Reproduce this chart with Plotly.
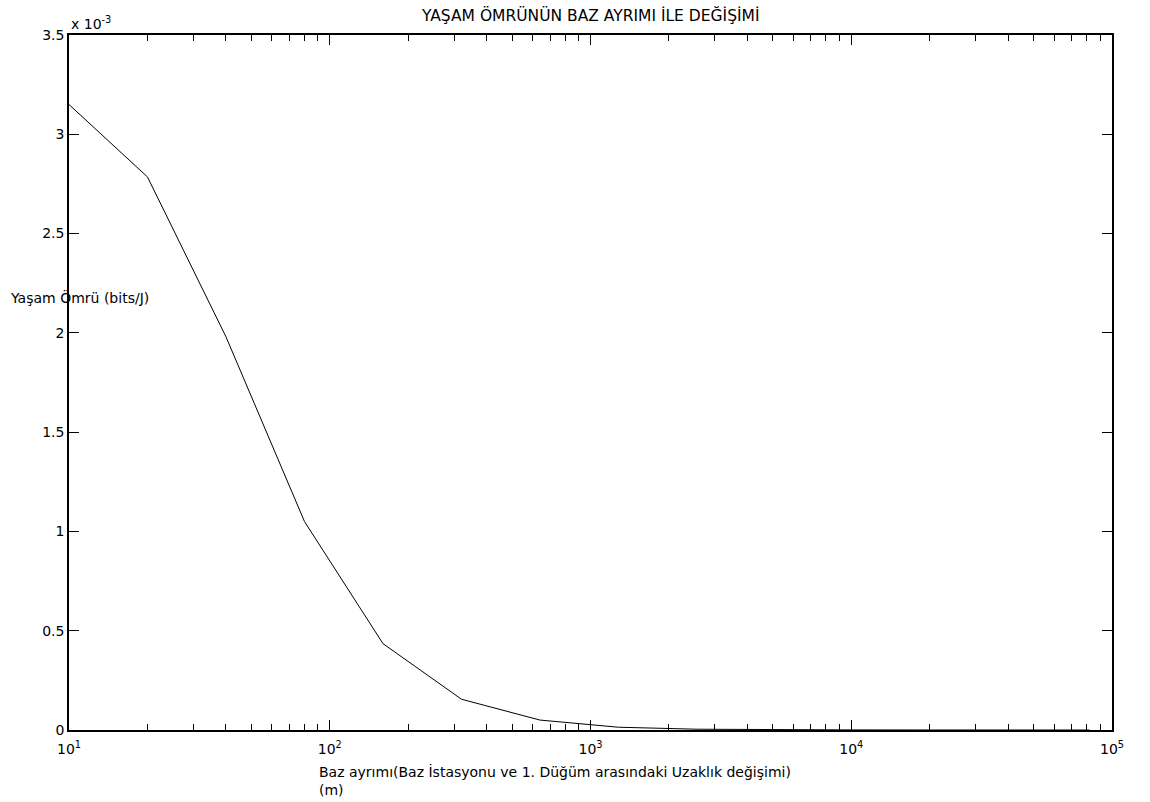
import plotly.graph_objects as go

# Base-station distance (m) and lifetime (bits/J, in units of 1e-3)
distance_m = [10, 20, 40, 80, 160, 320, 640, 1280, 2560, 5120, 10240, 20480, 40960, 81920]
lifetime_e3 = [3.15, 2.785, 1.98, 1.05, 0.435, 0.155, 0.05, 0.014, 0.004, 0.0012,
               0.0004, 0.00012, 0.00004, 0.00001]

x_major = [10, 100, 1000, 10000, 100000]
x_major_text = ["10<sup>1</sup>", "10<sup>2</sup>", "10<sup>3</sup>", "10<sup>4</sup>", "10<sup>5</sup>"]
x_minor = [m * d for d in (10, 100, 1000, 10000) for m in range(2, 10)]
y_ticks = [0, 0.5, 1, 1.5, 2, 2.5, 3, 3.5]
y_tick_text = ["0", "0.5", "1", "1.5", "2", "2.5", "3", "3.5"]

title_text = "YAŞAM ÖMRÜNÜN BAZ AYRIMI İLE DEĞİŞİMİ"
x_label = "Baz ayrımı(Baz İstasyonu ve 1. Düğüm arasındaki Uzaklık değişimi)<br>(m)"
y_label = "Yaşam Ömrü (bits/J)"

family = "DejaVu Sans, Liberation Sans, Arial, sans-serif"
font = dict(family=family, size=14, color="black")
title_font = dict(family=family, size=15.5, color="black")

L, R, T, B = 69, 38, 35, 72
W, H = 1150, 802
plot_w = W - L - R
plot_h = H - T - B


def px_x(px):
    return (px - L) / plot_w


def px_y(py):
    return (H - B - py) / plot_h


fig = go.Figure()
fig.add_trace(go.Scatter(x=distance_m, y=lifetime_e3, mode="lines",
                         line=dict(color="black", width=1), showlegend=False))

fig.update_layout(
    width=W, height=H,
    margin=dict(l=L, r=R, t=T, b=B),
    paper_bgcolor="white", plot_bgcolor="white",
    font=font,
    xaxis=dict(
        type="log", range=[1, 5],
        tickmode="array", tickvals=x_major, ticktext=x_major_text,
        ticks="inside", ticklen=10, tickwidth=1, tickcolor="black",
        ticklabelstandoff=5,
        minor=dict(tickmode="array", tickvals=x_minor, ticks="inside",
                   ticklen=6, tickwidth=1, tickcolor="black"),
        showline=True, linecolor="black", linewidth=1.5, mirror="ticks",
        showgrid=False, zeroline=False, tickfont=font,
    ),
    yaxis=dict(
        range=[0, 3.5],
        tickmode="array", tickvals=y_ticks, ticktext=y_tick_text,
        ticks="inside", ticklen=10, tickwidth=1, tickcolor="black",
        showline=True, linecolor="black", linewidth=1.5, mirror="ticks",
        showgrid=False, zeroline=False, tickfont=font,
    ),
    annotations=[
        dict(text=title_text, x=0.5, y=1, xref="paper", yref="paper",
             xanchor="center", yanchor="bottom", yshift=8, showarrow=False,
             font=title_font),
        dict(text="x 10<sup>-3</sup>", x=0, y=1, xref="paper", yref="paper",
             xanchor="left", yanchor="bottom", yshift=1, showarrow=False, font=font),
        dict(text=y_label, x=px_x(8), y=px_y(297), xref="paper", yref="paper",
             showarrow=False, xanchor="left", yanchor="middle", font=font),
        dict(text=x_label, x=px_x(317), y=px_y(781), xref="paper", yref="paper",
             showarrow=False, align="left", xanchor="left", yanchor="middle",
             font=font),
    ],
)

fig.write_html("out.html")
